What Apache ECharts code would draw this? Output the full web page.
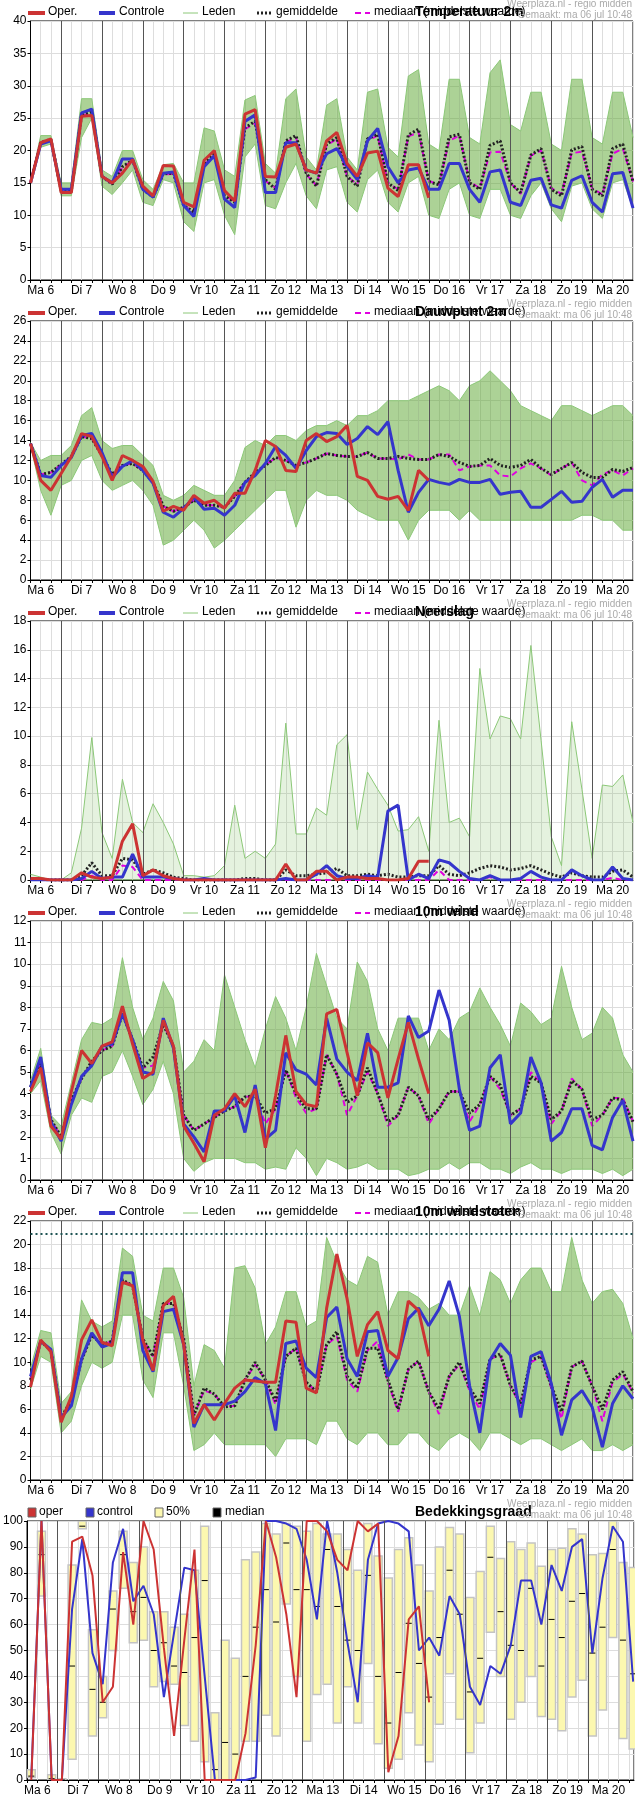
<!DOCTYPE html>
<html>
<head>
<meta charset="utf-8">
<script src="https://cdn.jsdelivr.net/npm/echarts@6/dist/echarts.min.js"></script>
<style>body{margin:0;background:#fff}#c{width:635px;height:1800px}</style>
</head>
<body>
<div id="c"></div>
<script>
var days = ['Ma 6','Di 7','Wo 8','Do 9','Vr 10','Za 11','Zo 12','Ma 13','Di 14','Wo 15','Do 16','Vr 17','Za 18','Zo 19','Ma 20'];
var midnights = [24,48,72,96,120,144,168,192,216,240,264,288,312,336];

// Temperatuur 2m
var oper1 = [15,21.2,21.8,13.5,13.5,25.3,25.4,16,15,16.5,18.6,14.5,13,17.7,17.6,12,11.3,18.5,20,13.8,12.2,25.6,26.3,16,15.9,20.5,21,17,16.5,21.5,22.8,18,16,19.6,19.9,14.2,12.9,17.8,17.8,12.7];
var ctrl1 = [15,21,21.5,14,14,25.8,26.4,16,15,18.7,18.7,14,12.8,16.5,16.7,11.5,9.8,17.5,19.2,12.5,11.2,24.5,25.5,13.5,13.5,21.2,21.2,17,16.5,19.5,20.3,17.5,15.5,21.5,23.4,17.5,15,17,17.3,14,14,18,18,14,12,16.7,17,12,11.5,15.4,15.7,11.6,11.1,15.4,16.1,12,10.5,16.4,16.6,11.1];
var mean1 = [15,21.3,21.7,13.8,13.8,25.5,26,16,14.8,17.5,18.5,14,12.8,16.4,16.5,11.5,10.5,18,19.5,13,12,23.5,24.5,15.5,14,21.5,22.3,16.5,14.5,21,22,16,14.5,21.8,22.5,15,13.8,22.4,23.3,15.2,14.7,22.1,22.5,15,14,20.8,21.5,15,13.5,19.3,20.3,14,13,20.1,20.6,14,13,20.3,21,15.2];
var median1 = [15,21.2,21.6,13.8,13.8,25.4,25.8,16,14.8,17.4,18.4,14,12.8,16.3,16.4,11.5,10.6,17.8,19.3,13,12.2,23.3,24.2,15.3,14.2,21.3,22,16.3,14.6,20.8,21.8,16,14.8,21.5,22.3,15,14,22.2,22.8,15.3,14.7,21.5,22.3,15.2,14.2,19.7,19.8,15,13.3,19.2,20,14.2,13.3,19.6,19.8,14.2,13.2,19.5,20.3,15.2];
var hi1 = [15,22.3,22.3,15,15,28,28,17,16,20,20,15.5,14,17.8,18,15,15,23.5,23,17,16,27.8,28.5,18,16.5,28,29.5,19,17,27,28,19,17,29,29.5,20.5,19,31.5,32.5,21,20,31,31,22,21,32,34,24,23,29,29,21,20,31,31,22,21,29,29,22];
var lo1 = [15,20.5,21,13,13,22,25,14.5,13.2,15,17,12,11.5,15.5,15,9,7.5,15,15.5,10,7,19,21,11.5,11,15,18,13,11,17,17.5,12,10.5,15.5,17,12,10.5,15,16,10,9.5,14,15,10,9.5,14,14,10,9.5,13,15,11,9,14.5,15,11,9.5,15,15.5,11];

// Dauwpunt 2m
var oper2 = [13.7,10,9,10.7,12.4,14.7,14.4,12.4,10,12.5,12,11.4,9.9,6.9,7.4,7,8.5,7.7,8,7.2,8.7,8.7,11,14,13.4,11,10.9,14,14.7,13.9,14.4,15.5,10.4,10,8.4,8.1,8.4,7,11,10];
var ctrl2 = [13.7,10.5,10.3,11.5,12.3,14.5,14.7,12.8,10.3,11.4,12,11,9.7,6.8,6.3,7.2,8.3,7.1,7.2,6.5,7.5,9.8,10.5,11.7,13.4,12.5,11.2,13,14.4,14.8,14.7,13.6,14.2,15.4,14.6,15.9,11,6.8,8.8,10.1,9.8,9.6,10.1,9.8,9.8,10.1,8.6,8.8,8.9,7.3,7.3,8.1,8.9,7.8,7.9,9.3,10.1,8.3,9,9];
var mean2 = [13.7,10.6,10.8,11.6,12.4,14.4,14.2,12.5,10.6,11.5,11.7,11,9.8,7.4,6.9,7.3,8,7.5,7.5,7.3,8.4,9.8,10.8,11.5,12.3,12,11.5,11.8,12.2,12.7,12.5,12.4,12.4,12.8,12.2,12.2,12.4,12.2,12.1,12.1,12.6,12.4,11.8,11.4,11.5,12.2,11.5,11.3,11.5,12.1,11.2,10.6,11.2,11.8,10.8,10.3,10.3,11.1,10.9,11.3];
var median2 = [13.7,10.6,10.8,11.6,12.4,14.4,14.2,12.5,10.6,11.5,11.7,11,9.8,7.4,6.9,7.3,8,7.5,7.5,7.3,8.4,9.8,10.8,11.5,12.3,12,11.5,11.8,12.2,12.7,12.5,12.4,12.4,12.8,12.2,12.2,12.1,12.6,12.1,12.1,12.6,12.6,11,11.4,11.5,11.5,10.5,10.4,11.2,11.7,11.2,10.5,11.2,11.8,10,9.5,10.6,11,10.5,11.2];
var hi2 = [13.8,12,12.5,12.5,13.5,16.5,17.3,14,13.2,13.5,13.5,12.5,11.5,8.5,8,8.5,9.5,9,8.5,8.5,10,13.3,14,13.5,14.5,14.5,14,15,15.5,15.5,16,15.5,16.5,16.5,17,18,18,18,18.5,19,19.5,19,18,19.5,20,21,20,19,17.5,17,16.5,16,17.5,17.5,17,16.5,17,17.5,17.5,16.5];
var lo2 = [13.5,9,6.5,9.5,10,12,12.5,10,9,9.5,10,9,7.5,3.5,4,5,6,5,3.2,4,5,6,7,8,9,9,5.3,8,9,8.5,8.5,8,7,6.5,6,6,6,4,6,7,7,7,6,7,6,6,6,6,6,6,6,6,6,6,6.5,6.5,6,6,5,5];

// Neerslag
var oper3 = [0.1,0.1,0,0,0,0.5,0.2,0.1,0.2,2.7,3.9,0.3,0.7,0.3,0.1,0,0,0,0,0,0,0,0,0,0,1.1,0,0,0.6,0.6,0,0.2,0.2,0.1,0.1,0,0,0.1,1.3,1.3];
var ctrl3 = [0,0,0,0,0,0.1,0.6,0.1,0.2,0.2,1.8,0.2,0.2,0.2,0.1,0,0,0.1,0,0,0,0,0,0,0,0.1,0,0,0.4,1,0.3,0.1,0.1,0.3,0.2,4.8,5.2,0,0.4,0.1,1.4,1.2,0.6,0.1,0,0.3,0,0,0.1,0.6,0.2,0,0,0.7,0.3,0,0,0.9,0.1,0];
var mean3 = [0.05,0.05,0,0,0,0.3,1.2,0.3,0.3,1.5,1.4,0.4,0.7,0.5,0.2,0.1,0,0,0,0,0,0.1,0.1,0,0,0.7,0.3,0.3,0.4,0.5,0.8,0.3,0.3,0.4,0.3,0.4,0.2,0.2,0.3,0.3,1,0.4,0.3,0.5,0.8,1,0.9,0.7,0.8,1,0.7,0.4,0.2,0.5,0.3,0.2,0.2,0.6,0.7,0.2];
var median3 = [0,0,0,0,0,0,0.3,0,0,1,0.9,0,0,0,0,0,0,0,0,0,0,0,0,0,0,0,0,0,0,0,0,0,0,0,0,0,0,0,0,0,0.7,0,0,0,0,0.2,0,0,0,0,0,0,0,0,0,0,0,0.15,0,0];
var hi3 = [0.4,0.2,0,0,0.5,3.6,9.9,3.3,1.5,7,4,3.3,5.3,4,2.5,0.3,0.3,0.2,0.3,1,5.2,1.5,2,1.5,2.5,10.9,3.2,3.2,5,4.5,9.4,10.1,3.5,7.5,6.3,5.2,3.4,3.5,4.4,2,11.1,4,4.3,3,14.7,9.8,11.4,11.2,9.8,16.3,9.7,3,1,11,6.3,1.5,6.6,6.5,7.3,4];
var lo3 = [0,0,0,0,0,0,0,0,0,0,0,0,0,0,0,0,0,0,0,0,0,0,0,0,0,0,0,0,0,0,0,0,0,0,0,0,0,0,0,0,0,0,0,0,0,0,0,0,0,0,0,0,0,0,0,0,0,0,0,0];

// 10m wind
var oper4 = [4.1,5.2,2.5,1.9,4.1,6,5.4,6.2,6.4,8.05,6.3,4.7,5,7.4,6.2,2.5,1.7,0.85,3,3.3,4,3.4,4.2,1.5,3.9,6.7,4.1,3.5,3.4,7.7,7.9,5.9,3.9,6.35,5.9,3.8,5.6,7.3,5.6,4];
var ctrl4 = [4.3,5.7,2.7,1.8,3.5,4.8,5.3,6.2,6.3,7.7,6.5,5,4.9,7.5,6.1,2.6,2,1.3,3.2,3.2,3.9,2.2,4.4,1.9,2.3,5.9,5.1,4.9,4.4,7.5,5.6,5,4.6,6.8,4.3,4.3,4.5,7.6,6.6,6.9,8.8,7.4,4.2,2.3,2.5,5.2,5.8,2.6,3.1,5.7,4.5,1.8,2.2,3.3,3.3,1.6,1.4,2.9,3.7,1.8];
var mean4 = [4.3,5.4,2.8,2,3.7,4.7,5.5,6,6.2,7.7,6.5,5.2,5.7,7.2,6.2,3,2.3,2.6,2.9,3.2,3.4,3.85,3.9,3.1,3.3,5.1,4,3.3,3.3,5.8,4.9,3.6,3.9,5.2,4,2.7,3,4.3,3.9,2.8,3.3,4.1,4.1,3.1,3.5,4.8,4.4,3,3.3,4.8,4.5,2.8,3.2,4.6,4.2,2.8,3,3.8,3.7,2.7];
var median4 = [4.3,5.4,2.8,2,3.7,4.7,5.5,6,6.2,7.7,6.5,5.2,5.3,7.2,6.2,3,2.3,2.6,2.9,3.2,3.4,3.85,3.9,2.6,3.3,5.1,3.8,3.1,3.3,5.8,4.9,3,3.9,5,4,2.5,3,4.3,3.9,2.6,3.3,4.1,4.1,2.7,3.5,4.8,4.2,3,3.3,5,4.5,2.6,3.2,4.7,4.2,2.5,3,3.8,3.8,2.7];
var hi4 = [4.6,6.1,3,2.5,4.5,6.5,7.3,7.2,7.5,10.3,8,6.5,7.5,9.2,8.3,5,5.5,6.5,6,9.5,8,6.5,5.2,7,8.5,7.5,6,8,10.5,9,7.5,7,10.1,9.2,7,6,7.5,7.5,7.5,6,7,6.5,7.5,7.8,8.9,8,7.2,6.2,8.2,7.8,7.2,7.5,9.9,8,6.5,6.8,8,7.5,5.8,5];
var lo4 = [4,4.6,2.2,1.2,3,3.8,3.6,4.8,5,6,4.8,3.5,4.2,5.5,4,1,0.4,0.8,1,1,1,0.8,0.8,0.5,0.6,0.5,1.5,1,0.2,1,0.8,0.5,0.6,0.8,0.5,0.5,0.5,0.2,0.3,0.5,0.5,0.8,0.5,0.8,0.8,0.5,0.5,0.3,0.6,0.8,0.5,0.5,0.3,0.5,0.5,0.5,0.3,0.5,0.2,0.5];

// 10m windstoten
var oper5 = [7.9,11.9,10.9,4.9,7.1,11.9,13.6,11.7,11.4,16.8,16.5,11.9,9.3,14.8,15.6,11.5,4.8,6.4,5.1,6.5,7.8,8.5,8.4,8.3,8.3,13.5,13.4,7.8,7.4,14.6,19.2,15.4,10.5,13.2,14.3,11,10.3,15.2,14.4,10.5];
var ctrl5 = [8.8,11.8,11.1,5.3,6.3,10.3,12.5,11.3,11.6,17.6,17.6,11,9.2,14.3,14.5,11.5,4.5,6.4,6.4,6.4,6.7,7.5,8.7,8.2,4.2,11.6,11.8,9.5,8.7,13.8,14.7,10.3,8.8,12.6,12.7,8.8,10.4,13.7,14.6,13.1,14.5,16.9,13.9,8,4,10.2,11.6,10.6,5.3,10.5,10.9,8.2,3.8,6.8,7.6,6.2,2.8,6.5,8,6.9];
var mean5 = [8.5,11.8,11,5.3,6.8,10.2,12.3,11.5,11.8,17,16.5,12,10.5,15,15,12,5.5,7.8,7.3,6.2,6.3,8.5,10,8.5,6.7,10.5,11.2,8.3,7.5,11.5,12.6,8.8,7.8,11.2,11.2,8.5,6,9.4,10.1,7.5,6,8.8,10,7.8,6.5,10.3,10.7,8,6.5,10.2,10.5,8,5.8,9.6,10.1,8,6,8.5,9.2,7.5];
var median5 = [8.5,11.8,11,5.3,6.8,10.2,12.3,11.5,11.8,17,16.5,12,10.5,15,15,12,5.5,7.6,7.3,6.2,6.3,8.5,9.8,8.5,6.4,10.5,11.2,8.3,7.5,11.5,12.2,8.5,7.5,11,11.8,8.3,5.8,9.4,10.1,7.5,5.6,8.8,9.8,7.6,6,10.3,10.6,8,6.3,10,10.5,7.8,5.2,9.6,10.1,8,5,8.3,9,7.4];
var hi5 = [9.5,12.7,12.5,6.5,7.5,15.3,13.5,13,13.5,19.7,19,14,13.5,18,18,15.5,8,11.5,11,9.5,18,18.2,16.3,11.5,13,16,16,13,13.5,20.6,18.5,17,16.5,19,18.5,14,16,16,15.5,14.5,15,14,14,16.5,14,17.7,17,15,17,18,18,16,16,20.6,17,15,16,16.2,15,12];
var lo5 = [7.7,10.5,10,4,5,8,10,9.5,10,14,14,8.5,7,12.5,12.5,8,2.5,3,4,3,3,3,3,3,2,3.5,3.5,3.5,3,5,5,3.5,3,4,4,3,3,4,4,3,2.5,3.5,4,3.5,2.5,4,4,3.5,3,3.5,3.5,3,2.5,3,3.5,2.5,2.5,3,2.5,3];
var gustLimit = 20.9;

// Bedekkingsgraad
var oper6 = [0,100,0,0,92,94,79,30,36,88,60,100,89,51,17,54,89,0,0,0,0,18,52,100,86,64,32,100,100,96,85,81,100,96,99,3,17,62,67,30];
var ctrl6 = [1,100,0,0,66,93,49,37,84,97,69,75,64,32,57,82,81,40,0,0,0,0,1,100,100,99,97,85,62,100,80,53,30,85,99,100,99,96,50,55,48,71,64,36,29,44,41,52,77,77,60,83,73,90,93,49,78,98,92,38];
var q25_6 = [1,71,0,0,8,97,17,24,50,74,53,54,36,38,37,21,15,7,0,0,0,15,15,25,17,68,40,15,33,37,22,36,22,45,14,4.5,8,26,13.5,7,21.5,41,23.5,10.5,22,57,40,23.5,30,40,24.5,23.5,19,32,38.5,17,27,55,16,12];
var q75_6 = [4,96,2,0.5,83,100,58,40,73,96,84,90,65,65,59,64,81,98,26,54,47,85,88,99,95,99,98,96,99,95,95,89,81,99,86.5,78,89,93.5,83,73,90,97.5,95,70.5,80.5,98,85.5,92,89,91.5,82.5,89,89.5,97,95,87,87.5,100,84,82];
var med6 = [1.5,87,0.5,0,44,98,35,30,66,87,65,70.5,50,53,44,41.5,55,77,4,14.5,10,40,59,73.5,61,91.5,73.5,73.5,67,89,67,54,50,79,40,22,41.5,60.5,45,32,55,81,64,34,47,86,65,52,50,74,44,62,55,69,72,49,59,89,54,41];

function pts(arr, start) { return arr.map(function (v, i) { return [start + 6 * i, v]; }); }

var panels = [
  {title: 'Temperatuur 2m', max: 40, step: 5, oper: oper1, ctrl: ctrl1, mean: mean1, med: median1, hi: hi1, lo: lo1},
  {title: 'Dauwpunt 2m', max: 26, step: 2, oper: oper2, ctrl: ctrl2, mean: mean2, med: median2, hi: hi2, lo: lo2},
  {title: 'Neerslag', max: 18, step: 2, oper: oper3, ctrl: ctrl3, mean: mean3, med: median3, hi: hi3, lo: lo3, faint: true},
  {title: '10m wind', max: 12, step: 1, oper: oper4, ctrl: ctrl4, mean: mean4, med: median4, hi: hi4, lo: lo4},
  {title: '10m windstoten', max: 22, step: 2, oper: oper5, ctrl: ctrl5, mean: mean5, med: median5, hi: hi5, lo: lo5, limit: gustLimit},
  {title: 'Bedekkingsgraad', max: 100, step: 10, oper: oper6, ctrl: ctrl6, cloud: true}
];

var FONT = 'Liberation Sans';
var grids = [], xAxes = [], yAxes = [], series = [], graphics = [];

// band of ensemble members: one quad per 6h step between lo and hi
function bandItem(params, api) {
  var a = api.coord([api.value(0), api.value(1)]), b = api.coord([api.value(0), api.value(2)]);
  var c = api.coord([api.value(3), api.value(5)]), d = api.coord([api.value(3), api.value(4)]);
  return {type: 'polygon', shape: {points: [a, b, c, d]}, style: {fill: api.visual('color'), stroke: null}};
}

panels.forEach(function (p, k) {
  var top = 300 * k;
  grids.push({top: top + 21, height: 259, left: p.cloud ? 26 : 30.5, right: p.cloud ? 1 : 2,
    show: true, borderColor: '#000', borderWidth: 1});
  xAxes.push({
    gridIndex: k, type: 'value', min: 6, max: p.cloud ? 363 : 360, interval: 6,
    axisLine: {lineStyle: {color: '#000'}},
    axisTick: {length: 3, lineStyle: {color: '#000'}},
    axisLabel: {color: '#000', fontFamily: FONT, fontSize: 12, margin: 5, showMinLabel: true, showMaxLabel: false,
      formatter: function (v) { return (v % 24 === 12) ? days[(v - 12) / 24] : ''; }},
    splitLine: {show: true, lineStyle: {color: '#ddd'}}
  });
  yAxes.push({
    gridIndex: k, type: 'value', min: 0, max: p.max, interval: p.step,
    axisLine: {show: true, lineStyle: {color: '#000'}},
    axisTick: {show: true, length: 3, lineStyle: {color: '#000'}},
    axisLabel: {color: '#000', fontFamily: FONT, fontSize: 12, margin: 4},
    splitLine: {lineStyle: {color: '#ddd'}}
  });

  var dayLines = {silent: true, symbol: 'none', label: {show: false},
    lineStyle: {color: '#555', width: 1, type: 'solid'},
    data: midnights.map(function (h) { return {xAxis: h}; })};

  if (p.cloud) {
    var bars = q25_6.map(function (v, i) { return [8.5 + 6 * i, v, q75_6[i], med6[i]]; });
    series.push({
      type: 'custom', xAxisIndex: k, yAxisIndex: k, z: 2, clip: true, data: bars,
      renderItem: function (params, api) {
        var x = api.value(0);
        var a = api.coord([x, api.value(1)]), b = api.coord([x, api.value(2)]), m = api.coord([x, api.value(3)]);
        return {type: 'group', children: [
          {type: 'rect', shape: {x: a[0] - 4, y: b[1], width: 8, height: Math.max(a[1] - b[1], 1)},
            style: {fill: '#fcf8b0', stroke: '#c4c4c4', lineWidth: 1.5}},
          {type: 'line', shape: {x1: m[0] - 3, y1: m[1], x2: m[0] + 3, y2: m[1]},
            style: {stroke: '#000', lineWidth: 1}}
        ]};
      },
      markLine: dayLines
    });
    series.push({type: 'line', xAxisIndex: k, yAxisIndex: k, z: 4, symbol: 'none', data: pts(ctrl6, 8.5),
      lineStyle: {color: '#3535cc', width: 2}});
    series.push({type: 'line', xAxisIndex: k, yAxisIndex: k, z: 5, symbol: 'none', data: pts(oper6, 8.5),
      lineStyle: {color: '#cc3333', width: 2}});
  } else {
    var quads = [];
    for (var i = 0; i < p.lo.length - 1; i++) {
      quads.push([6 + 6 * i, p.lo[i], p.hi[i], 12 + 6 * i, p.lo[i + 1], p.hi[i + 1]]);
    }
    series.push({type: 'custom', xAxisIndex: k, yAxisIndex: k, z: 1, clip: true, data: quads,
      renderItem: bandItem, encode: {x: [0, 3], y: [1, 2, 4, 5]},
      itemStyle: {color: p.faint ? 'rgba(110,185,80,0.18)' : 'rgba(90,165,45,0.5)'},
      markLine: dayLines});
    [p.hi, p.lo].forEach(function (arr) {
      series.push({type: 'line', xAxisIndex: k, yAxisIndex: k, symbol: 'none', z: 2, data: pts(arr, 6),
        lineStyle: {color: '#8cc878', width: 1}});
    });
    series.push({type: 'line', xAxisIndex: k, yAxisIndex: k, symbol: 'none', z: 3, data: pts(p.med, 6),
      lineStyle: {color: '#e000e0', width: 2, type: [6, 4]}});
    series.push({type: 'line', xAxisIndex: k, yAxisIndex: k, symbol: 'none', z: 4, data: pts(p.mean, 6),
      lineStyle: {color: '#222', width: 3, type: [2, 2]}});
    series.push({type: 'line', xAxisIndex: k, yAxisIndex: k, symbol: 'none', z: 5, data: pts(p.ctrl, 6),
      lineStyle: {color: '#3535cc', width: 3}});
    var op = {type: 'line', xAxisIndex: k, yAxisIndex: k, symbol: 'none', z: 6, data: pts(p.oper, 6),
      lineStyle: {color: '#cc3333', width: 3}};
    if (p.limit) {
      op.markLine = {silent: true, symbol: 'none', label: {show: false},
        lineStyle: {color: '#1f5555', width: 2, type: [2, 3]}, data: [{yAxis: p.limit}]};
    }
    series.push(op);
  }

  // legend, title and stamp
  var ly = top + 13, ts = {fontFamily: FONT, fontSize: 12, fill: '#000', textVerticalAlign: 'middle'};
  function txt(x, s) { return {type: 'text', left: x, top: ly - 7, style: Object.assign({text: s}, ts)}; }
  function seg(x1, x2, stroke, w, dash) {
    return {type: 'line', shape: {x1: x1, y1: ly, x2: x2, y2: ly}, style: {stroke: stroke, lineWidth: w, lineDash: dash || null}};
  }
  function box(x, fill) {
    return {type: 'rect', shape: {x: x, y: ly - 5, width: 8, height: 9}, style: {fill: fill, stroke: '#666', lineWidth: 1}};
  }
  if (p.cloud) {
    graphics.push(box(28, '#cc3333'), txt(39, 'oper'), box(86, '#3535cc'), txt(97, 'control'),
      box(155, '#fcf8b0'), txt(166, '50%'), box(213, '#000'), txt(225, 'median'));
  } else {
    graphics.push(seg(28, 45, '#cc3333', 4), txt(48, 'Oper.'), seg(99, 115, '#3535cc', 4), txt(119, 'Controle'),
      seg(183, 198, '#8cc878', 1), txt(202, 'Leden'), seg(257, 271, '#222', 3, [2, 2]), txt(276, 'gemiddelde'),
      seg(355, 370, '#e000e0', 2, [6, 4]), txt(374, 'mediaan (middelste waarde)'));
  }
  graphics.push({type: 'text', left: 415, top: ly - 8, style: {text: p.title, fontFamily: FONT, fontSize: 14,
    fontWeight: 'bold', fill: '#000', textAlign: 'center'}});
  graphics.push({type: 'text', right: 3, top: top - 1, style: {text: 'Weerplaza.nl - regio midden', fontFamily: FONT,
    fontSize: 10, fill: '#aaa', textAlign: 'right'}});
  graphics.push({type: 'text', right: 3, top: top + 10, style: {text: 'Gemaakt: ma 06 jul 10:48', fontFamily: FONT,
    fontSize: 10, fill: '#aaa', textAlign: 'right'}});
});

var chart = echarts.init(document.getElementById('c'));
chart.setOption({
  animation: false,
  grid: grids, xAxis: xAxes, yAxis: yAxes, series: series, graphic: graphics
});
</script>
</body>
</html>
